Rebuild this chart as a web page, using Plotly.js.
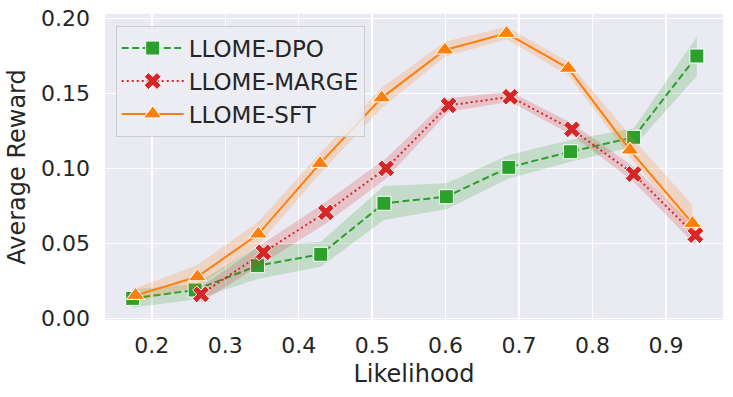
<!DOCTYPE html>
<html>
<head>
<meta charset="utf-8">
<script src="https://cdn.plot.ly/plotly-3.0.1.min.js"></script>
<style>html,body{margin:0;padding:0;background:#fff;}#chart{width:733px;height:397px;}</style>
</head>
<body>
<div id="chart"></div>
<script>
// LLOME-DPO
const dpoX = [0.174, 0.259, 0.344, 0.430, 0.516, 0.601, 0.686, 0.770, 0.856, 0.942];
const dpoY = [0.0133, 0.0189, 0.0351, 0.0427, 0.0767, 0.0811, 0.1007, 0.1111, 0.1207, 0.1749];
const dpoLo = [0.0073, 0.0125, 0.0262, 0.0344, 0.0655, 0.0727, 0.0933, 0.1044, 0.1144, 0.1615];
const dpoHi = [0.0193, 0.0229, 0.0478, 0.0511, 0.0882, 0.0900, 0.1089, 0.1189, 0.1267, 0.1877];
// LLOME-MARGE
const margeX = [0.267, 0.352, 0.437, 0.519, 0.604, 0.688, 0.772, 0.856, 0.940];
const margeY = [0.0160, 0.0440, 0.0707, 0.1000, 0.1420, 0.1477, 0.1260, 0.0962, 0.0555];
const margeLo = [0.0105, 0.0367, 0.0633, 0.0933, 0.1377, 0.1444, 0.1222, 0.0910, 0.0489];
const margeHi = [0.0211, 0.0500, 0.0778, 0.1067, 0.1467, 0.1511, 0.1300, 0.1010, 0.0600];
// LLOME-SFT
const sftX = [0.178, 0.262, 0.345, 0.429, 0.513, 0.599, 0.683, 0.767, 0.851, 0.936];
const sftY = [0.0153, 0.0277, 0.0562, 0.1033, 0.1470, 0.1789, 0.1900, 0.1667, 0.1122, 0.0633];
const sftLo = [0.0110, 0.0211, 0.0489, 0.0966, 0.1403, 0.1744, 0.1860, 0.1620, 0.1075, 0.0570];
const sftHi = [0.0200, 0.0355, 0.0644, 0.1100, 0.1537, 0.1844, 0.1944, 0.1710, 0.1220, 0.0755];

const xTicks = [0.2, 0.3, 0.4, 0.5, 0.6, 0.7, 0.8, 0.9];
const yTicks = [0.00, 0.05, 0.10, 0.15, 0.20];

const series = [
  {name: 'LLOME-DPO', x: dpoX, y: dpoY, lo: dpoLo, hi: dpoHi, color: '#2ca02c', fill: 'rgba(44,160,44,0.2)', dash: '7px,3.5px', symbol: 'square', size: 14},
  {name: 'LLOME-MARGE', x: margeX, y: margeY, lo: margeLo, hi: margeHi, color: '#d62728', fill: 'rgba(214,39,40,0.2)', dash: '2px,3px', symbol: 'x', size: 15},
  {name: 'LLOME-SFT', x: sftX, y: sftY, lo: sftLo, hi: sftHi, color: '#ff7f0e', fill: 'rgba(255,127,14,0.2)', dash: 'solid', symbol: 'triangle-up', size: 16}
];

const traces = [];
series.forEach((s, i) => {
  const g = 'g' + i;
  traces.push({x: s.x, y: s.lo, mode: 'lines', line: {width: 0, color: s.fill}, legendgroup: g, showlegend: false, hoverinfo: 'skip', type: 'scatter'});
  traces.push({x: s.x, y: s.hi, mode: 'lines', line: {width: 0, color: s.fill}, fill: 'tonexty', fillcolor: s.fill, legendgroup: g, showlegend: false, hoverinfo: 'skip', type: 'scatter'});
  traces.push({x: s.x, y: s.y, name: s.name, legendgroup: g, mode: 'lines+markers', type: 'scatter',
    line: {color: s.color, width: 2, dash: s.dash},
    marker: {symbol: s.symbol, size: s.size, color: s.color, line: {color: '#ffffff', width: 1}}});
});

const layout = {
  width: 733, height: 397,
  margin: {l: 105, r: 10, t: 14, b: 77},
  paper_bgcolor: '#ffffff',
  plot_bgcolor: '#eaeaf2',
  font: {family: 'DejaVu Sans', color: '#262626', size: 22},
  xaxis: {
    range: [0.1363, 0.9776],
    tickvals: xTicks, ticktext: xTicks.map(v => v.toFixed(1)),
    showgrid: true, gridcolor: '#ffffff', gridwidth: 1.5,
    zeroline: false, showline: false, ticks: '',
    ticklabelstandoff: 10,
    tickfont: {size: 22, color: '#262626'},
    title: {text: 'Likelihood', font: {size: 24, color: '#262626'}, standoff: 8},
    automargin: false
  },
  yaxis: {
    range: [-0.0011, 0.2029],
    tickvals: yTicks, ticktext: yTicks.map(v => v.toFixed(2)),
    showgrid: true, gridcolor: '#ffffff', gridwidth: 1.5,
    zeroline: false, showline: false, ticks: '',
    ticklabelstandoff: 14,
    tickfont: {size: 22, color: '#262626'},
    title: {text: 'Average Reward', font: {size: 24, color: '#262626'}, standoff: 8},
    automargin: false
  },
  legend: {
    x: 0.0173, y: 0.962, xanchor: 'left', yanchor: 'top',
    bgcolor: 'rgba(236,236,243,0.85)', bordercolor: '#cccccc', borderwidth: 1,
    font: {size: 23, color: '#262626'},
    traceorder: 'grouped', tracegroupgap: 0,
    itemwidth: 62
  },
  showlegend: true
};

Plotly.newPlot('chart', traces, layout, {displayModeBar: false, staticPlot: true});
</script>
</body>
</html>
